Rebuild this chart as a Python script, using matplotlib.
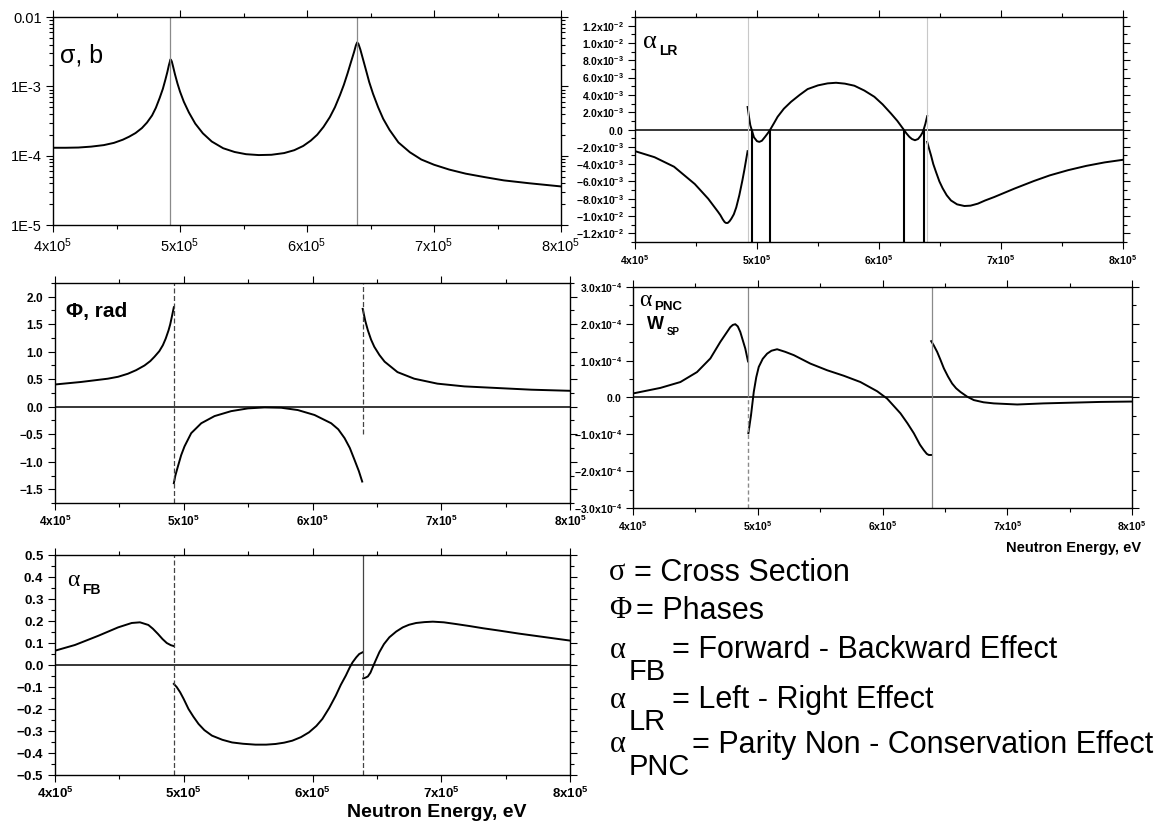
import matplotlib
matplotlib.use("Agg")
import matplotlib.pyplot as plt
import numpy as np
from matplotlib.ticker import MultipleLocator, LogLocator, FuncFormatter, NullFormatter

W, H = 1171, 830

plt.rcParams["font.family"] = ["Liberation Sans", "DejaVu Sans"]
plt.rcParams["mathtext.fontset"] = "custom"
plt.rcParams["mathtext.rm"] = "Liberation Sans"
plt.rcParams["mathtext.bf"] = "Liberation Sans:bold"
plt.rcParams["mathtext.it"] = "Liberation Sans:italic"
plt.rcParams["axes.unicode_minus"] = False

# resonance energies (units of 1e5 eV)
E_RES = [4.925, 6.395]

# cross section, b
sig_E = [4.00, 4.10, 4.20, 4.30, 4.40, 4.48, 4.55, 4.60, 4.65, 4.70, 4.74, 4.78, 4.81, 4.84,
         4.865, 4.885, 4.90, 4.912, 4.925, 4.935, 4.945, 4.96, 4.98, 5.00, 5.03, 5.07, 5.12,
         5.18, 5.25, 5.34, 5.43, 5.52, 5.62, 5.72, 5.82, 5.90, 5.97, 6.03, 6.08, 6.13, 6.18,
         6.22, 6.26, 6.29, 6.32, 6.345, 6.37, 6.385, 6.395, 6.405, 6.42, 6.44, 6.465, 6.49,
         6.52, 6.56, 6.60, 6.65, 6.72, 6.81, 6.90, 7.00, 7.12, 7.25, 7.40, 7.55, 7.75, 8.00]
sig_v = [1.30e-4, 1.30e-4, 1.31e-4, 1.35e-4, 1.42e-4, 1.53e-4, 1.70e-4, 1.88e-4, 2.12e-4,
         2.5e-4, 3.0e-4, 3.8e-4, 4.9e-4, 6.8e-4, 9.2e-4, 1.25e-3, 1.6e-3, 2.0e-3, 2.45e-3,
         2.3e-3, 1.95e-3, 1.5e-3, 1.1e-3, 8.4e-4, 6.0e-4, 4.2e-4, 2.9e-4, 2.1e-4, 1.6e-4,
         1.28e-4, 1.13e-4, 1.05e-4, 1.02e-4, 1.03e-4, 1.09e-4, 1.2e-4, 1.38e-4, 1.65e-4,
         2.0e-4, 2.6e-4, 3.6e-4, 5.0e-4, 7.5e-4, 1.05e-3, 1.55e-3, 2.2e-3, 3.1e-3, 3.9e-3,
         4.3e-3, 4.1e-3, 3.4e-3, 2.5e-3, 1.7e-3, 1.15e-3, 7.8e-4, 5.0e-4, 3.4e-4, 2.35e-4,
         1.55e-4, 1.12e-4, 8.8e-5, 7.4e-5, 6.3e-5, 5.5e-5, 4.9e-5, 4.4e-5, 4.0e-5, 3.6e-5]
sig_ticks = [1e-5, 1e-4, 1e-3, 1e-2]
sig_labels = ["1E-5", "1E-4", "1E-3", "0.01"]

# left-right asymmetry (units of 1e-3), three branches
lr_E1 = [4.00, 4.16, 4.32, 4.49, 4.60, 4.68, 4.70, 4.72, 4.735, 4.746, 4.76, 4.775, 4.79,
         4.81, 4.83, 4.855, 4.88, 4.896, 4.923]
lr_v1 = [-2.5, -3.2, -4.3, -6.3, -8.0, -9.5, -9.9, -10.4, -10.7, -10.8, -10.8, -10.6, -10.3,
         -9.8, -9.0, -7.6, -5.9, -4.7, -2.5]
lr_E2 = [4.923, 4.935, 4.945, 4.956, 4.975, 5.0, 5.019, 5.04, 5.066, 5.09, 5.109, 5.14,
         5.169, 5.22, 5.279, 5.35, 5.415, 5.50, 5.579, 5.648, 5.72, 5.798, 5.88, 5.962, 6.03,
         6.098, 6.15, 6.202, 6.225, 6.249, 6.27, 6.295, 6.32, 6.339, 6.355, 6.366, 6.38, 6.395]
lr_v2 = [2.6, 1.4, 0.5, 0.0, -0.9, -1.35, -1.43, -1.3, -0.85, -0.4, 0.0, 0.75, 1.47, 2.4,
         3.2, 4.0, 4.67, 5.1, 5.33, 5.4, 5.3, 5.06, 4.5, 3.78, 2.9, 1.85, 1.0, 0.0, -0.45,
         -0.85, -1.1, -1.24, -1.1, -0.77, -0.4, 0.0, 0.65, 1.54]
lr_E3 = [6.395, 6.41, 6.426, 6.445, 6.467, 6.495, 6.522, 6.555, 6.59, 6.64, 6.70, 6.75,
         6.81, 6.87, 6.945, 7.03, 7.11, 7.27, 7.40, 7.55, 7.70, 7.85, 8.00]
lr_v3 = [-1.43, -2.2, -2.97, -4.0, -4.9, -6.0, -6.8, -7.6, -8.2, -8.65, -8.84, -8.8, -8.57,
         -8.2, -7.8, -7.3, -6.83, -5.95, -5.3, -4.7, -4.2, -3.8, -3.5]
lr_drops = [4.956, 5.109, 6.202, 6.366]

# phases, rad
ph_E1 = [4.00, 4.20, 4.41, 4.49, 4.566, 4.63, 4.695, 4.74, 4.773, 4.81, 4.838, 4.86, 4.882,
         4.895, 4.907, 4.915, 4.923]
ph_v1 = [0.405, 0.45, 0.51, 0.545, 0.60, 0.665, 0.75, 0.83, 0.91, 1.01, 1.12, 1.24, 1.39,
         1.50, 1.63, 1.72, 1.81]
ph_E2 = [4.923, 4.935, 4.954, 4.98, 5.006, 5.058, 5.136, 5.239, 5.368, 5.498, 5.627, 5.757,
         5.886, 6.016, 6.145, 6.20, 6.249, 6.29, 6.327, 6.36, 6.386]
ph_v2 = [-1.39, -1.25, -1.09, -0.88, -0.72, -0.48, -0.30, -0.17, -0.08, -0.03, -0.012,
         -0.018, -0.06, -0.15, -0.30, -0.41, -0.57, -0.75, -0.97, -1.17, -1.36]
ph_E3 = [6.39, 6.41, 6.43, 6.455, 6.48, 6.52, 6.56, 6.66, 6.79, 6.97, 7.18, 7.44, 7.70, 8.00]
ph_v3 = [1.78, 1.56, 1.39, 1.22, 1.09, 0.94, 0.82, 0.63, 0.51, 0.42, 0.37, 0.34, 0.31, 0.29]

# parity non-conservation (units of 1e-4)
pnc_E1 = [4.00, 4.219, 4.38, 4.513, 4.62, 4.70, 4.78, 4.80, 4.82, 4.84, 4.86, 4.90, 4.922]
pnc_v1 = [0.11, 0.26, 0.42, 0.69, 1.06, 1.51, 1.91, 1.97, 1.99, 1.93, 1.78, 1.33, 0.98]
pnc_E2 = [4.925, 4.946, 4.968, 4.988, 5.008, 5.04, 5.075, 5.11, 5.155, 5.22, 5.289, 5.422,
          5.556, 5.69, 5.823, 5.957, 6.037, 6.144, 6.20, 6.251, 6.30, 6.331, 6.355, 6.371,
          6.39]
pnc_v2 = [-0.97, -0.48, 0.15, 0.55, 0.83, 1.05, 1.19, 1.27, 1.31, 1.24, 1.15, 0.92, 0.74,
          0.59, 0.42, 0.17, -0.03, -0.43, -0.70, -0.97, -1.28, -1.43, -1.53, -1.56, -1.56]
pnc_E3 = [6.39, 6.41, 6.438, 6.465, 6.492, 6.525, 6.558, 6.59, 6.625, 6.68, 6.732, 6.81,
          6.892, 7.08, 7.29, 7.52, 7.75, 8.00]
pnc_v3 = [1.53, 1.42, 1.24, 1.02, 0.79, 0.57, 0.38, 0.25, 0.15, 0.02, -0.07, -0.13, -0.16,
          -0.19, -0.16, -0.14, -0.12, -0.11]

# forward-backward asymmetry
fb_E1 = [4.00, 4.155, 4.337, 4.49, 4.596, 4.66, 4.725, 4.76, 4.80, 4.835, 4.868, 4.90, 4.923]
fb_v1 = [0.065, 0.091, 0.133, 0.171, 0.191, 0.194, 0.182, 0.165, 0.141, 0.118, 0.10, 0.09,
         0.086]
fb_E2 = [4.923, 4.945, 4.972, 5.0, 5.037, 5.075, 5.115, 5.16, 5.219, 5.30, 5.375, 5.46,
         5.557, 5.64, 5.713, 5.78, 5.843, 5.91, 5.973, 6.03, 6.077, 6.13, 6.181, 6.22, 6.259,
         6.29, 6.311, 6.34, 6.363, 6.39]
fb_v2 = [-0.086, -0.10, -0.124, -0.155, -0.20, -0.235, -0.268, -0.296, -0.321, -0.34,
         -0.352, -0.358, -0.362, -0.362, -0.359, -0.353, -0.344, -0.328, -0.306, -0.277,
         -0.245, -0.195, -0.139, -0.09, -0.048, -0.01, 0.012, 0.035, 0.05, 0.058]
fb_E3 = [6.394, 6.41, 6.43, 6.45, 6.467, 6.49, 6.519, 6.555, 6.597, 6.65, 6.701, 6.75,
         6.805, 6.87, 6.935, 7.02, 7.117, 7.22, 7.325, 7.455, 7.6, 7.8, 8.0]
fb_v3 = [-0.061, -0.058, -0.052, -0.035, -0.011, 0.02, 0.058, 0.095, 0.126, 0.152, 0.171,
         0.183, 0.191, 0.195, 0.197, 0.194, 0.186, 0.177, 0.167, 0.156, 0.143, 0.127, 0.111]


def ev(a):
    return np.asarray(a) * 1e5


fig = plt.figure(figsize=(W / 100, H / 100), dpi=100)


def add_axes(left, top, right, bottom):
    return fig.add_axes([left / W, 1 - bottom / H, (right - left) / W, (bottom - top) / H])


def ftext(x, y, s, **kw):
    kw.setdefault("va", "center")
    kw.setdefault("ha", "left")
    fig.text(x / W, 1 - y / H, s, **kw)


def x_formatter(bold):
    def f(v, pos):
        s = r"%dx10^{5}" % round(v / 1e5)
        return (r"$\mathbf{%s}$" if bold else r"$\mathregular{%s}$") % s
    return FuncFormatter(f)


def sci_formatter(v, pos):
    if abs(v) < 1e-12:
        return r"$\mathbf{0.0}$"
    e = int(np.floor(np.log10(abs(v)) + 1e-9))
    return r"$\mathbf{%.1fx10^{%d}}$" % (v / 10.0 ** e, e)


def dec_formatter(v, pos):
    return r"$\mathbf{%.1f}$" % (0.0 if abs(v) < 1e-9 else v)


def style(ax, size, bold=True):
    ax.set_xlim(4e5, 8e5)
    ax.xaxis.set_major_locator(MultipleLocator(1e5))
    ax.xaxis.set_minor_locator(MultipleLocator(0.5e5))
    ax.xaxis.set_major_formatter(x_formatter(bold))
    ax.tick_params(which="both", direction="out", top=True, right=True, width=0.8,
                   labelsize=size, pad=3)
    ax.tick_params(which="major", length=5)
    ax.tick_params(which="minor", length=3)
    for sp in ax.spines.values():
        sp.set_linewidth(1.0)


LW = 1.4
GRAY = "#8a8a8a"

# ---- cross section
ax1 = add_axes(53, 17, 561, 225)
ax1.semilogy(ev(sig_E), sig_v, color="black", lw=LW)
ax1.set_ylim(1e-5, 1e-2)
ax1.set_yticks(sig_ticks)
ax1.set_yticklabels(sig_labels)
ax1.yaxis.set_minor_locator(LogLocator(base=10, subs=np.arange(2, 10)))
ax1.yaxis.set_minor_formatter(NullFormatter())
for e in E_RES:
    ax1.axvline(e * 1e5, color=GRAY, lw=0.9)
style(ax1, 10.5, bold=False)
ftext(60, 55, "σ, b", fontsize=18)

# ---- left-right
ax2 = add_axes(635, 17, 1123, 242)
for E, v in [(lr_E1, lr_v1), (lr_E2, lr_v2), (lr_E3, lr_v3)]:
    ax2.plot(ev(E), np.asarray(v) * 1e-3, color="black", lw=LW)
ax2.set_ylim(-1.3e-2, 1.3e-2)
ax2.vlines(ev(lr_drops), -1.3e-2, 0, color="black", lw=1.5)
ax2.axhline(0, color="black", lw=1.1)
for e in E_RES:
    ax2.axvline(e * 1e5, color="#c8c8c8", lw=0.8)
ax2.yaxis.set_major_locator(MultipleLocator(2e-3))
ax2.yaxis.set_minor_locator(MultipleLocator(1e-3))
ax2.yaxis.set_major_formatter(FuncFormatter(sci_formatter))
style(ax2, 7.5)
ftext(643, 42, "α", fontsize=19, family="Liberation Serif")
ftext(659, 51, "LR", fontsize=10, weight="bold")

# ---- phases
ax3 = add_axes(55, 283, 570, 503)
for E, v in [(ph_E1, ph_v1), (ph_E2, ph_v2), (ph_E3, ph_v3)]:
    ax3.plot(ev(E), v, color="black", lw=LW)
ax3.set_ylim(-1.75, 2.25)
ax3.axhline(0, color="black", lw=1.1)
ax3.axvline(E_RES[0] * 1e5, color="#444444", lw=0.9, ls=(0, (4, 2)))
ax3.vlines(E_RES[1] * 1e5, -0.5, 2.25, color="#444444", lw=0.9, linestyles=[(0, (4, 2))])
ax3.yaxis.set_major_locator(MultipleLocator(0.5))
ax3.yaxis.set_minor_locator(MultipleLocator(0.25))
ax3.yaxis.set_major_formatter(FuncFormatter(dec_formatter))
style(ax3, 8.5)
ftext(66, 311, "Φ, rad", fontsize=15, weight="bold")

# ---- parity non-conservation
ax4 = add_axes(633, 287, 1132, 508)
for E, v in [(pnc_E1, pnc_v1), (pnc_E2, pnc_v2), (pnc_E3, pnc_v3)]:
    ax4.plot(ev(E), np.asarray(v) * 1e-4, color="black", lw=LW)
ax4.set_ylim(-3e-4, 3e-4)
ax4.axhline(0, color="black", lw=1.1)
ax4.vlines(E_RES[0] * 1e5, 0, 3e-4, color=GRAY, lw=0.9)
ax4.vlines(E_RES[0] * 1e5, -3e-4, 0, color=GRAY, lw=1.0, linestyles=[(0, (3, 2))])
ax4.axvline(E_RES[1] * 1e5, color=GRAY, lw=0.9)
ax4.yaxis.set_major_locator(MultipleLocator(1e-4))
ax4.yaxis.set_minor_locator(MultipleLocator(0.5e-4))
ax4.yaxis.set_major_formatter(FuncFormatter(sci_formatter))
style(ax4, 7.5)
ftext(639, 301, "α", fontsize=17, family="Liberation Serif")
ftext(654, 307, "PNC", fontsize=9.5, weight="bold")
ftext(647, 324, "W", fontsize=13, weight="bold")
ftext(667, 332, "SP", fontsize=7, weight="bold")
ftext(1141, 548, "Neutron Energy, eV", fontsize=10.5, weight="bold", ha="right")

# ---- forward-backward
ax5 = add_axes(55, 555, 570, 775)
for E, v in [(fb_E1, fb_v1), (fb_E2, fb_v2), (fb_E3, fb_v3)]:
    ax5.plot(ev(E), v, color="black", lw=LW)
ax5.set_ylim(-0.5, 0.5)
ax5.axhline(0, color="black", lw=1.1)
ax5.axvline(E_RES[0] * 1e5, color="#444444", lw=0.9, ls=(0, (4, 2)))
ax5.vlines(E_RES[1] * 1e5, 0, 0.5, color="#444444", lw=0.9)
ax5.vlines(E_RES[1] * 1e5, -0.5, 0, color="#444444", lw=0.9, linestyles=[(0, (4, 2))])
ax5.yaxis.set_major_locator(MultipleLocator(0.1))
ax5.yaxis.set_minor_locator(MultipleLocator(0.05))
ax5.yaxis.set_major_formatter(FuncFormatter(dec_formatter))
style(ax5, 9.5)
ftext(67, 580, "α", fontsize=17, family="Liberation Serif")
ftext(82, 590, "FB", fontsize=10, weight="bold")
ftext(437, 812, "Neutron Energy, eV", fontsize=14, weight="bold", ha="center")

# ---- definitions block
BIG = 22
ftext(609, 573, "σ", fontsize=BIG, family="Liberation Serif")
ftext(634, 573, "= Cross Section", fontsize=BIG)
ftext(609, 611, "Φ", fontsize=BIG, family="Liberation Serif")
ftext(636, 611, "= Phases", fontsize=BIG)
rows = [("FB", "= Forward - Backward Effect", 650, 672),
        ("LR", "= Left - Right Effect", 700, 672),
        ("PNC", "= Parity Non - Conservation Effect", 745, 692)]
for sub, desc, y, xd in rows:
    ftext(610, y, "α", fontsize=BIG, family="Liberation Serif")
    ftext(629, y + 22, sub, fontsize=BIG - 1)
    ftext(xd, y, desc, fontsize=BIG)

fig.savefig("out.png", dpi=100)
